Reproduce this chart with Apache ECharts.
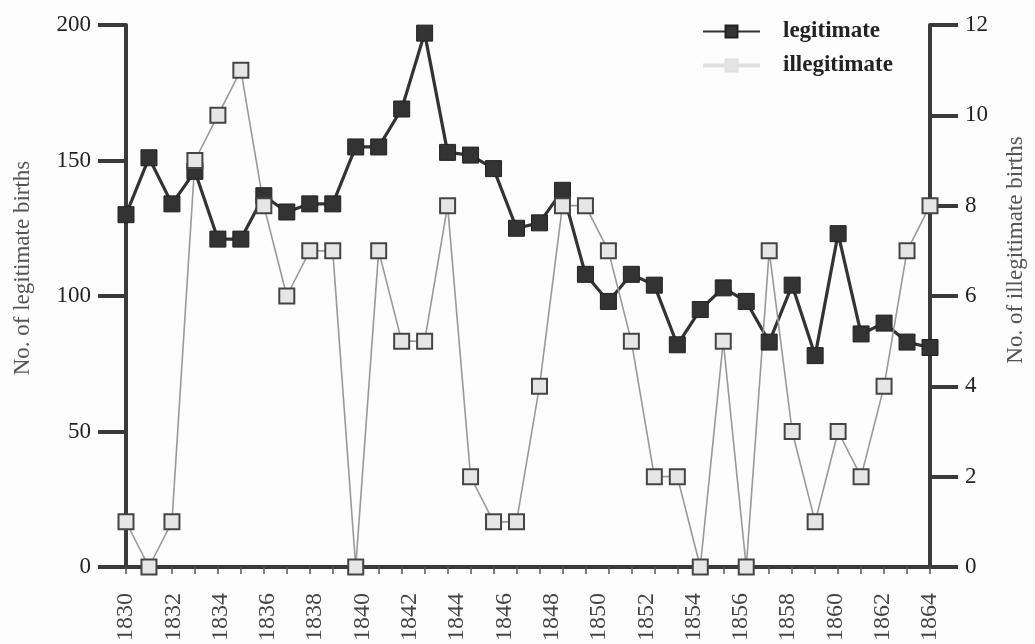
<!DOCTYPE html>
<html>
<head>
<meta charset="utf-8">
<script src="https://cdn.jsdelivr.net/npm/echarts@6/dist/echarts.min.js"></script>
<style>
  html, body { margin: 0; padding: 0; background: #fdfdfd; }
  #chart { width: 1035px; height: 644px; }
</style>
</head>
<body>
<div id="chart"></div>
<script>
// Data points (one per year position on the axis)
const years = ['1830','1831','1832','1833','1834','1835','1836','1837','1838','1839',
               '1840','1841','1842','1843','1844','1845','1846','1847','1848','1849',
               '1850','1851','1852','1853','1854','1855','1856','1857','1858','1859',
               '1860','1861','1862','1863','1864','1865'];
const legitimate = [130,151,134,146,121,121,137,131,134,134,
                    155,155,169,197,153,152,147,125,127,139,
                    108,98,108,104,82,95,103,98,83,104,
                    78,123,86,90,83,81];
const illegitimate = [1,0,1,9,10,11,8,6,7,7,
                      0,7,5,5,8,2,1,1,4,8,
                      8,7,5,2,2,0,5,0,7,3,
                      1,3,2,4,7,8];
// Tick labels printed along the year axis
const yearLabels = ['1830','1832','1834','1836','1838','1840','1842','1844','1846',
                    '1848','1850','1852','1854','1856','1858','1860','1862','1864'];
const leftTicks = [0, 200, 50];   // min, max, interval
const rightTicks = [0, 12, 2];

const serif = '"Liberation Serif", "DejaVu Serif", serif';
const chart = echarts.init(document.getElementById('chart'));

chart.setOption({
  backgroundColor: '#fdfdfd',
  animation: false,
  grid: { left: 126, right: 98, top: 25, bottom: 76, containLabel: false },
  legend: {
    orient: 'vertical',
    left: 701,
    top: 20,
    padding: 0,
    itemWidth: 57,
    itemHeight: 15,
    itemGap: 11,
    textStyle: { fontFamily: serif, fontSize: 23, fontWeight: 'bold', color: '#222', padding: [0, 0, 0, 18] },
    data: [
      { name: 'legitimate' },
      { name: 'illegitimate',
        itemStyle: { color: '#e4e4e4', borderColor: '#e0e0e0' },
        lineStyle: { color: '#e0e0e0', width: 4 } }
    ]
  },
  xAxis: [
    {
      type: 'category',
      data: years,
      boundaryGap: false,
      axisLine: { lineStyle: { color: '#3a3a3a', width: 4 } },
      axisTick: { show: true, interval: 0, length: 7, lineStyle: { color: '#555', width: 1.5 } },
      axisLabel: { show: false },
      splitLine: { show: false }
    },
    {
      type: 'category',
      data: yearLabels,
      boundaryGap: false,
      position: 'bottom',
      axisLine: { show: false },
      axisTick: { show: false },
      axisLabel: {
        interval: 0, rotate: 90, margin: 26,
        fontFamily: serif, fontSize: 24, color: '#444'
      },
      splitLine: { show: false }
    }
  ],
  yAxis: [
    {
      type: 'value',
      min: leftTicks[0], max: leftTicks[1], interval: leftTicks[2],
      position: 'left',
      name: 'No. of legitimate births',
      nameLocation: 'middle',
      nameGap: 92,
      nameRotate: 90,
      nameTextStyle: { fontFamily: serif, fontSize: 23, color: '#555', padding: [0, 0, 0, 56] },
      axisLine: { show: true, lineStyle: { color: '#3a3a3a', width: 4 } },
      axisTick: { show: true, length: 28, lineStyle: { color: '#3a3a3a', width: 4 } },
      axisLabel: { margin: 35, fontFamily: serif, fontSize: 23, color: '#222' },
      splitLine: { show: false }
    },
    {
      type: 'value',
      min: rightTicks[0], max: rightTicks[1], interval: rightTicks[2],
      position: 'right',
      name: 'No. of illegitimate births',
      nameLocation: 'middle',
      nameGap: 74,
      nameRotate: 90,
      nameTextStyle: { fontFamily: serif, fontSize: 23, color: '#555', padding: [0, 0, 0, 92] },
      axisLine: { show: true, lineStyle: { color: '#3a3a3a', width: 4 } },
      axisTick: { show: true, length: 28, lineStyle: { color: '#3a3a3a', width: 4 } },
      axisLabel: { margin: 35, fontFamily: serif, fontSize: 23, color: '#222' },
      splitLine: { show: false }
    }
  ],
  series: [
    {
      name: 'legitimate',
      type: 'line',
      xAxisIndex: 0,
      yAxisIndex: 0,
      data: legitimate,
      symbol: 'rect',
      symbolSize: 16,
      showAllSymbol: true,
      lineStyle: { color: '#333', width: 3.2 },
      itemStyle: { color: '#333', borderColor: '#222', borderWidth: 1 }
    },
    {
      name: 'illegitimate',
      type: 'line',
      xAxisIndex: 0,
      yAxisIndex: 1,
      data: illegitimate,
      symbol: 'rect',
      symbolSize: 15,
      showAllSymbol: true,
      lineStyle: { color: '#999', width: 1.6 },
      itemStyle: { color: '#e6e6e6', borderColor: '#444', borderWidth: 2 }
    }
  ]
});
</script>
</body>
</html>
